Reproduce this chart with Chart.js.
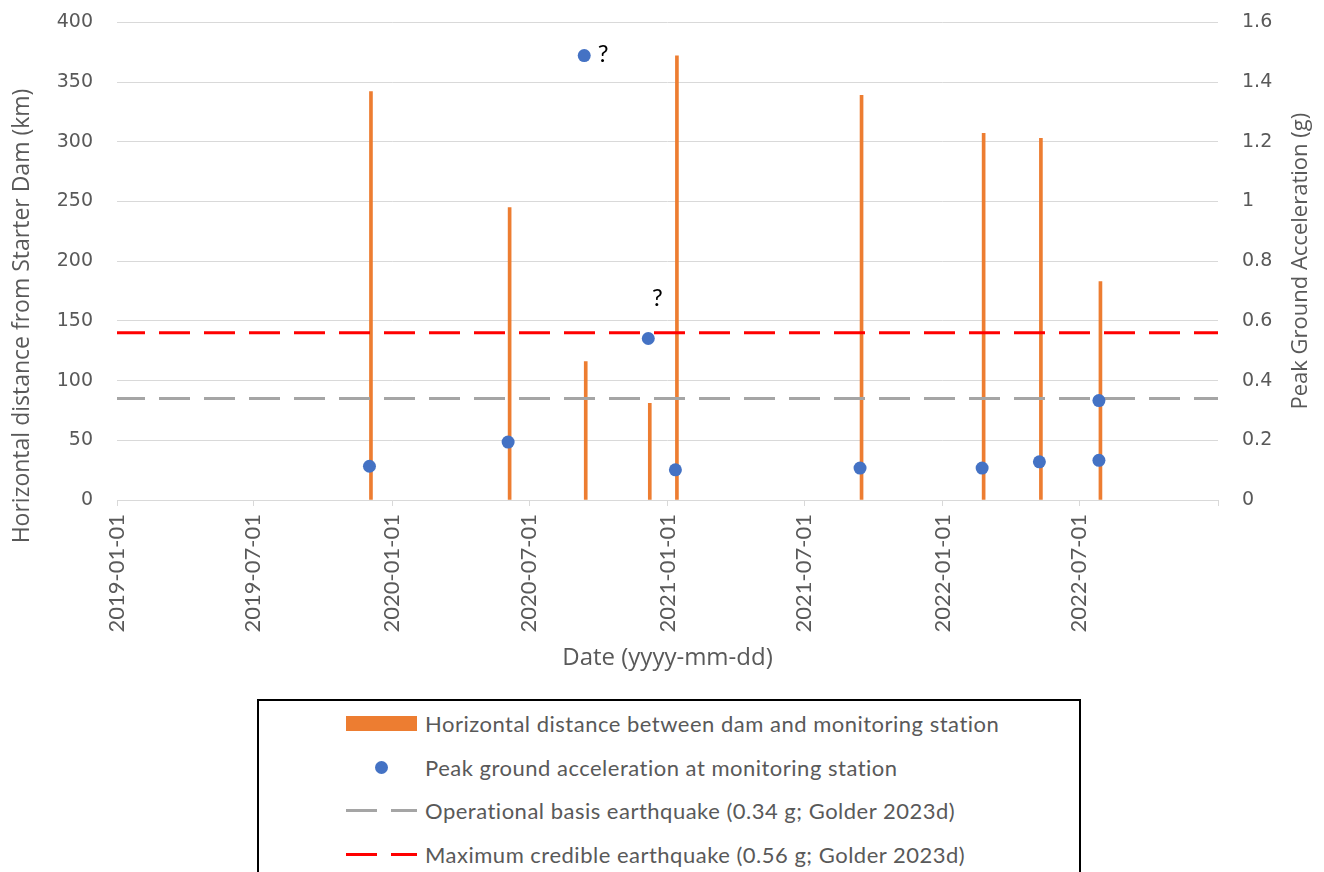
<!DOCTYPE html>
<html>
<head>
<meta charset="utf-8">
<script src="https://cdn.jsdelivr.net/npm/chart.js@4.4.1/dist/chart.umd.min.js"></script>
<style>
  body { margin: 0; background: #fff; overflow: hidden; }
  #wrap { position: absolute; left: 0; top: -13px; width: 1324px; height: 703px; }
  #legend {
    position: absolute; left: 257px; top: 699px; width: 824px; height: 200px;
    border: 2px solid #000; box-sizing: border-box; padding-top: 1px;
    font-family: Lato, sans-serif; font-size: 22px; letter-spacing: 0.5px; color: #595959;
  }
  .row { display: flex; align-items: center; height: 43.5px; }
  .sym { position: relative; width: 72px; height: 16px; margin-left: 87px; margin-right: 7px; }
  .sym i { position: absolute; display: block; }
</style>
</head>
<body>
<div id="wrap"><canvas id="chart"></canvas></div>
<div id="legend"></div>
<script>
// x axis ticks (every six months)
const tickDates = ['2019-01-01', '2019-07-01', '2020-01-01', '2020-07-01', '2021-01-01',
                   '2021-07-01', '2022-01-01', '2022-07-01', '2023-01-01'];
const tickLabels = ['2019-01-01', '2019-07-01', '2020-01-01', '2020-07-01', '2021-01-01',
                    '2021-07-01', '2022-01-01', '2022-07-01', ''];

// horizontal distance between dam and monitoring station (km)
const distDates = ['2019-12-04', '2020-06-05', '2020-09-14', '2020-12-08', '2021-01-13',
                   '2021-09-15', '2022-02-24', '2022-05-11', '2022-07-29'];
const distKm = [342, 245, 116, 81, 372, 339, 307, 303, 183];

// peak ground acceleration at monitoring station (g)
const pgaDates = ['2019-12-02', '2020-06-03', '2020-09-12', '2020-12-06', '2021-01-11',
                  '2021-09-13', '2022-02-22', '2022-05-09', '2022-07-27', '2022-07-27'];
const pgaG = [0.113, 0.194, 1.489, 0.541, 0.101, 0.107, 0.107, 0.128, 0.133, 0.333];
const pgaNotes = ['', '', '?', '?', '', '', '', '', '', ''];

const obeG = 0.34;
const mceG = 0.56;

const leftTitle = 'Horizontal distance from Starter Dam (km)';
const rightTitle = 'Peak Ground Acceleration (g)';
const noteOffsets = { 2: [19, -1], 3: [9, -40] };

function day(s) {
    return Date.parse(s + 'T00:00:00Z') / 864e5;
}

const xMin = day(tickDates[0]);
const xMax = day(tickDates[tickDates.length - 1]);
const grey = '#595959';
const gridCol = '#d9d9d9';

function vText(ctx, text, x, y) {
    ctx.save();
    ctx.translate(x, y);
    ctx.rotate(-Math.PI / 2);
    ctx.fillText(text, 0, 0);
    ctx.restore();
}

const notesPlugin = {
    id: 'notes',
    afterDatasetsDraw(chart) {
        const ctx = chart.ctx;
        const area = chart.chartArea;
        const meta = chart.getDatasetMeta(1);
        ctx.save();
        ctx.font = '24px Lato';
        ctx.fillStyle = '#000';
        ctx.textAlign = 'center';
        ctx.textBaseline = 'middle';
        pgaNotes.forEach((t, i) => {
            if (!t) return;
            const p = meta.data[i];
            const o = noteOffsets[i];
            ctx.fillText(t, p.x + o[0], p.y + o[1]);
        });
        // axis titles, both read bottom to top
        ctx.fillStyle = grey;
        ctx.font = '23px "Open Sans"';
        vText(ctx, leftTitle, 22, area.bottom - 184);
        ctx.font = '22px "Open Sans"';
        vText(ctx, rightTitle, 1301, area.top + area.height / 2);
        ctx.restore();
    }
};

const chart = new Chart(document.getElementById('chart'), {
    type: 'bar',
    data: {
        datasets: [
            {
                type: 'bar',
                label: 'Horizontal distance between dam and monitoring station',
                data: distDates.map((d, i) => ({ x: day(d), y: distKm[i] })),
                backgroundColor: '#ED7D31',
                barThickness: 3,
                yAxisID: 'y',
                order: 3
            },
            {
                type: 'scatter',
                label: 'Peak ground acceleration at monitoring station',
                data: pgaDates.map((d, i) => ({ x: day(d), y: pgaG[i] })),
                backgroundColor: '#4472C4',
                borderWidth: 0,
                pointRadius: 6.5,
                yAxisID: 'y1',
                order: 1
            },
            {
                type: 'line',
                label: 'Operational basis earthquake (0.34 g; Golder 2023d)',
                data: [{ x: xMin, y: obeG }, { x: xMax, y: obeG }],
                borderColor: '#A5A5A5',
                borderWidth: 3,
                borderDash: [31, 14],
                borderDashOffset: 3,
                pointRadius: 0,
                yAxisID: 'y1',
                order: 2
            },
            {
                type: 'line',
                label: 'Maximum credible earthquake (0.56 g; Golder 2023d)',
                data: [{ x: xMin, y: mceG }, { x: xMax, y: mceG }],
                borderColor: '#FF0000',
                borderWidth: 3,
                borderDash: [31, 14],
                borderDashOffset: 3,
                pointRadius: 0,
                yAxisID: 'y1',
                order: 2
            }
        ]
    },
    options: {
        responsive: true,
        maintainAspectRatio: false,
        animation: false,
        layout: { padding: { top: 5, left: 0, right: 0, bottom: 0 } },
        plugins: {
            legend: { display: false },
            tooltip: { enabled: false }
        },
        scales: {
            x: {
                type: 'linear',
                position: 'bottom',
                min: xMin,
                max: xMax,
                offset: false,
                afterBuildTicks: s => { s.ticks = tickDates.map(d => ({ value: day(d) })); },
                afterFit: s => { s.height = 190; },
                grid: { drawOnChartArea: false, offset: false, color: gridCol, tickLength: 6 },
                border: { color: gridCol },
                ticks: {
                    autoSkip: false,
                    minRotation: 90,
                    maxRotation: 90,
                    padding: 8,
                    color: grey,
                    font: { family: 'Lato', size: 22 },
                    callback: (v, i) => tickLabels[i]
                },
                title: {
                    display: true,
                    text: 'Date (yyyy-mm-dd)',
                    color: grey,
                    font: { family: 'Open Sans', size: 24 },
                    padding: { top: 0, bottom: 17 }
                }
            },
            y: {
                position: 'left',
                min: 0,
                max: 400,
                afterFit: s => { s.width = 117; },
                grid: { color: gridCol, drawTicks: false },
                border: { display: false },
                ticks: { stepSize: 50, padding: 24, color: grey, font: { family: 'DejaVu Sans', size: 19 } }
            },
            y1: {
                position: 'right',
                min: 0,
                max: 1.6,
                afterFit: s => { s.width = 106; },
                grid: { drawOnChartArea: false, drawTicks: false },
                border: { display: false },
                ticks: {
                    stepSize: 0.2,
                    padding: 24,
                    color: grey,
                    font: { family: 'DejaVu Sans', size: 19 },
                    callback: v => String(+v.toFixed(1))
                }
            }
        }
    },
    plugins: [notesPlugin]
});

// legend box below the chart, built from the datasets
function buildLegend(chart) {
    const box = document.getElementById('legend');
    chart.data.datasets.forEach(ds => {
        const row = document.createElement('div');
        row.className = 'row';
        const sym = document.createElement('div');
        sym.className = 'sym';
        if (ds.type === 'bar') {
            sym.innerHTML = '<i style="left:0;top:0.5px;width:71px;height:15px;background:' + ds.backgroundColor + '"></i>';
        } else if (ds.type === 'scatter') {
            sym.innerHTML = '<i style="left:29px;top:1.5px;width:13px;height:13px;border-radius:50%;background:' + ds.backgroundColor + '"></i>';
        } else {
            sym.innerHTML = '<i style="left:0;top:6.5px;width:31px;height:3px;background:' + ds.borderColor + '"></i>' +
                            '<i style="left:45px;top:6.5px;width:26px;height:3px;background:' + ds.borderColor + '"></i>';
        }
        const txt = document.createElement('span');
        txt.textContent = ds.label;
        row.appendChild(sym);
        row.appendChild(txt);
        box.appendChild(row);
    });
}
buildLegend(chart);
</script>
</body>
</html>
